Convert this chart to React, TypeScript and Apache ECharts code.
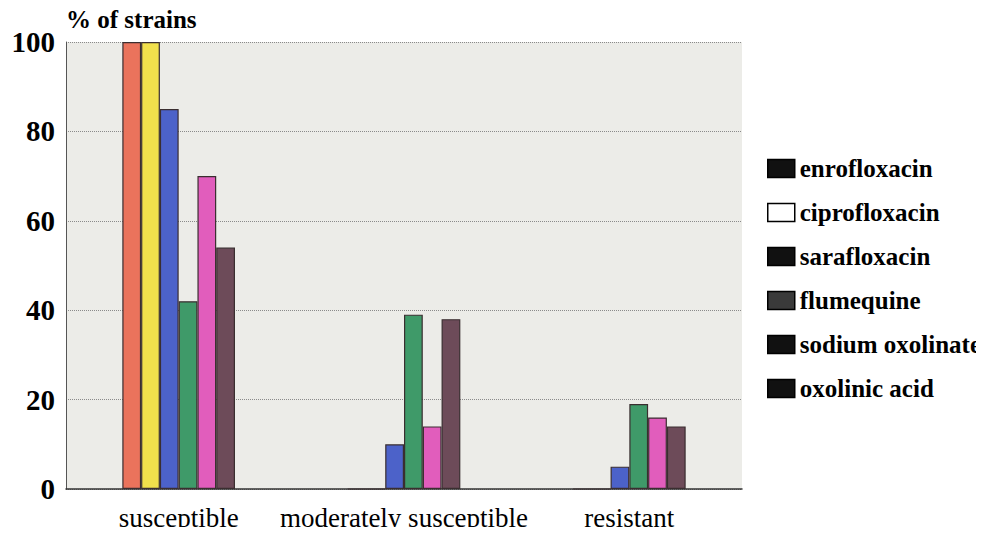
import React, { useEffect, useRef } from "react";
import * as echarts from "echarts";

const categories = ["susceptible", "moderately susceptible", "resistant"];
const drugs = [
  "enrofloxacin",
  "ciprofloxacin",
  "sarafloxacin",
  "flumequine",
  "sodium oxolinate",
  "oxolinic acid",
];
const enrofloxacin = [100, 0, 0];
const ciprofloxacin = [100, 0, 0];
const sarafloxacin = [85, 10, 5];
const flumequine = [42, 39, 19];
const sodiumOxolinate = [70, 14, 16];
const oxolinicAcid = [54, 38, 14];

const seriesValues = [
  enrofloxacin,
  ciprofloxacin,
  sarafloxacin,
  flumequine,
  sodiumOxolinate,
  oxolinicAcid,
];
const barColors = ["#EA735C", "#F1E04C", "#4C62C9", "#3F9A69", "#E15DBC", "#6D4B59"];
const legendSwatches = ["#111111", "#FFFFFF", "#111111", "#3A3A3A", "#111111", "#111111"];

const FONT = "Liberation Serif";

// Force the serif face on every SVG text node the chart emits.
const textCss = `.fig-chart svg text, .fig-chart svg tspan { font-family: "Liberation Serif", "Times New Roman", serif !important; }`;

export default function App() {
  const ref = useRef<HTMLDivElement>(null);

  useEffect(() => {
    if (!ref.current) return;
    const chart = echarts.init(ref.current, undefined, { renderer: "svg" });
    chart.setOption({
      animation: false,
      textStyle: { fontFamily: FONT },
      grid: {
        left: 66,
        right: 242,
        top: 42,
        bottom: 46,
        show: true,
        backgroundColor: "#ECECE8",
        borderWidth: 0,
      },
      legend: {
        orient: "vertical",
        left: 762,
        top: 151,
        itemWidth: 27,
        itemHeight: 18,
        itemGap: 19,
        icon: "rect",
        textStyle: {
          fontFamily: FONT,
          fontSize: 25,
          fontWeight: "bold",
          color: "#000",
        },
        data: drugs.map((name, i) => ({
          name,
          itemStyle: {
            color: legendSwatches[i],
            borderColor: "#000",
            borderWidth: 1.5,
          },
        })),
      },
      xAxis: {
        type: "category",
        data: categories,
        axisLine: { show: true, lineStyle: { color: "#333", width: 1.5 } },
        axisTick: { show: false },
        axisLabel: {
          interval: 0,
          fontFamily: FONT,
          fontSize: 27,
          color: "#000",
          margin: 15,
        },
      },
      yAxis: {
        type: "value",
        min: 0,
        max: 100,
        interval: 20,
        name: "% of strains",
        nameLocation: "end",
        nameGap: 10,
        nameTextStyle: {
          fontFamily: FONT,
          fontSize: 25,
          fontWeight: "bold",
          color: "#000",
          align: "left",
        },
        axisLine: { show: true, lineStyle: { color: "#555", width: 1 } },
        axisTick: { show: false },
        axisLabel: {
          fontFamily: FONT,
          fontSize: 29,
          fontWeight: "bold",
          color: "#000",
          margin: 11,
        },
        splitLine: {
          show: true,
          lineStyle: { color: "#8A8A8A", type: "dotted", width: 1 },
        },
      },
      series: drugs.map((name, i) => ({
        name,
        type: "bar",
        data: seriesValues[i],
        barGap: "0%",
        barCategoryGap: "50%",
        itemStyle: {
          color: barColors[i],
          borderColor: "#3A2E30",
          borderWidth: 1.2,
        },
      })),
    });
    return () => chart.dispose();
  }, []);

  return (
    <div style={{ position: "relative", width: 984, height: 535, margin: -8 }}>
      <style>{textCss}</style>
      <div
        ref={ref}
        className="fig-chart"
        style={{ position: "absolute", left: 0, top: 0, width: 984, height: 535 }}
      />
    </div>
  );
}
